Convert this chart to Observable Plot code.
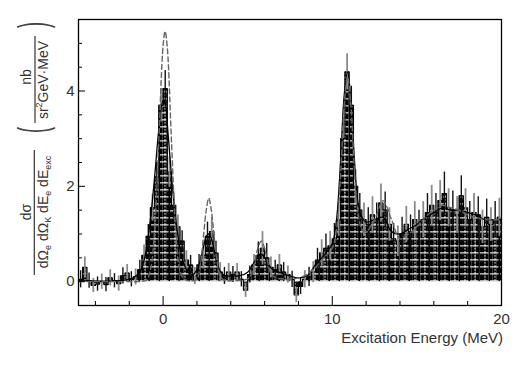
<!DOCTYPE html>
<html><head><meta charset="utf-8">
<script src="https://cdn.jsdelivr.net/npm/d3@7"></script>
<script src="https://cdn.jsdelivr.net/npm/@observablehq/plot@0.6"></script>
<style>body{margin:0;background:#fff}</style>
</head><body><div id="chart"></div>
<script>
// Histogram bins (excitation energy, MeV)
const binStart = -5;
const binWidth = 0.25;
const counts = [
  0.05, 0.30, 0.02, -0.08, -0.05, 0.00, -0.06, 0.08, 0.02, -0.04,
  0.12, 0.18, 0.05, 0.10, 0.25, 0.55, 0.95, 1.55, 2.2, 3.7,
  4.05, 2.3, 1.6, 1.15, 0.85, 0.45, 0.35, 0.12, 0.35, 0.55,
  0.95, 1.05, 0.6, 0.2, 0.12, 0.2, 0.15, 0.2, 0.05, -0.18,
  0.15, 0.35, 0.55, 0.7, 0.5, 0.3, 0.25, 0.35, 0.2, 0.15,
  0.05, -0.28, -0.1, 0.05, 0.1, 0.2, 0.45, 0.6, 0.7, 0.75,
  0.9, 1.3, 3.0, 4.4, 3.7, 2.0, 1.5, 1.3, 1.2, 1.4,
  1.3, 1.65, 1.5, 1.2, 0.9, 0.85, 1.0, 1.2, 1.05, 1.3,
  1.15, 1.3, 1.45, 1.6, 1.45, 1.7, 1.85, 1.55, 1.5, 1.4,
  1.8, 1.55, 1.3, 1.45, 1.4, 1.15, 1.35, 1.2, 1.3, 1.35
];
const errors = [
  0.18, 0.22, 0.16, 0.15, 0.15, 0.16, 0.15, 0.17, 0.15, 0.16,
  0.17, 0.18, 0.16, 0.17, 0.2, 0.22, 0.25, 0.28, 0.3, 0.35,
  0.38, 0.32, 0.28, 0.25, 0.22, 0.2, 0.2, 0.18, 0.22, 0.28,
  0.3, 0.3, 0.25, 0.2, 0.18, 0.18, 0.17, 0.18, 0.16, 0.15,
  0.18, 0.22, 0.28, 0.35, 0.3, 0.22, 0.2, 0.22, 0.2, 0.18,
  0.17, 0.16, 0.17, 0.18, 0.2, 0.22, 0.25, 0.28, 0.3, 0.3,
  0.32, 0.35, 0.35, 0.38, 0.4, 0.35, 0.35, 0.35, 0.35, 0.38,
  0.35, 0.4, 0.38, 0.35, 0.32, 0.32, 0.35, 0.38, 0.35, 0.38,
  0.35, 0.38, 0.4, 0.42, 0.4, 0.42, 0.45, 0.4, 0.4, 0.38,
  0.42, 0.4, 0.38, 0.4, 0.38, 0.35, 0.38, 0.35, 0.38, 0.4
];
// Smooth curves
const curveE = [
  -5, -2, -1.5, -1.25, -1, -0.75, -0.5, -0.25, 0, 0.12,
  0.25, 0.5, 0.75, 1, 1.25, 1.5, 1.75, 2, 2.2, 2.4,
  2.55, 2.7, 2.85, 3, 3.2, 3.4, 3.7, 4, 4.5, 5,
  5.2, 5.4, 5.6, 5.8, 6, 6.2, 6.4, 6.7, 7, 7.5,
  8, 8.5, 9, 9.5, 10, 10.25, 10.5, 10.7, 10.9, 11.1,
  11.3, 11.5, 11.75, 12, 12.5, 13, 13.5, 14, 14.5, 15,
  15.5, 16, 16.5, 17, 17.5, 18, 18.5, 19, 19.5, 20
];
const fitY = [
  0.02, 0.05, 0.15, 0.3, 0.65, 1.3, 2.2, 3.2, 3.8, 3.75,
  3.3, 2.2, 1.3, 0.7, 0.35, 0.2, 0.15, 0.25, 0.45, 0.75,
  0.95, 1.0, 0.9, 0.7, 0.4, 0.2, 0.12, 0.12, 0.12, 0.2,
  0.3, 0.42, 0.55, 0.58, 0.5, 0.38, 0.28, 0.22, 0.18, 0.12,
  0.08, 0.12, 0.35, 0.55, 0.8, 1.3, 2.6, 3.9, 4.4, 3.8,
  2.6, 1.7, 1.35, 1.25, 1.3, 1.35, 1.05, 1.0, 1.1, 1.2,
  1.35, 1.45, 1.55, 1.5, 1.5, 1.45, 1.4, 1.3, 1.3, 1.3
];
const calcY = [
  0, 0, 0, 0.01, 0.03, 0.24, 1.1, 3.0, 4.95, 5.25,
  4.9, 2.9, 1.05, 0.22, 0.05, 0.02, 0.02, 0.05, 0.35, 1.0,
  1.5, 1.75, 1.5, 1.0, 0.4, 0.1, 0.02, 0.02, 0.03, 0.06,
  0.15, 0.38, 0.7, 0.85, 0.7, 0.38, 0.15, 0.08, 0.06, 0.05,
  0.08, 0.15, 0.3, 0.5, 0.7, 1.1, 2.3, 3.7, 4.3, 3.7,
  2.4, 1.5, 1.1, 1.05, 1.3, 1.7, 1.3, 0.9, 1.0, 1.15,
  1.35, 1.5, 1.6, 1.55, 1.5, 1.4, 1.35, 1.3, 1.3, 1.3
];
const xMajorTicks = [0, 10, 20];
const xMinorTicks = [-4, -2, 2, 4, 6, 8, 12, 14, 16, 18];
const yMajorTicks = [0, 2, 4];
const yMinorTicks = [0.5, 1, 1.5, 2.5, 3, 3.5, 4.5, 5];

const bins = counts.map((v, i) => ({
  x1: binStart + i * binWidth,
  x2: binStart + (i + 1) * binWidth,
  xc: binStart + (i + 0.5) * binWidth,
  v, e: errors[i], odd: i % 2 === 1
}));
const curve = curveE.map((e, i) => ({e, fit: fitY[i], calc: calcY[i]}));

const chart = Plot.plot({
  width: 532,
  height: 374,
  marginLeft: 78,
  marginRight: 31,
  marginTop: 19,
  marginBottom: 69,
  style: {fontFamily: "Liberation Sans, Arial, sans-serif", fontSize: "15px", color: "#333", background: "white"},
  x: {domain: [-5, 20], axis: null},
  y: {domain: [-0.5, 5.5], axis: null},
  marks: [
    Plot.rect(bins, {x1: "x1", x2: "x2", y1: 0, y2: "v", fill: "url(#hatch)"}),
    Plot.line(bins, {x: "xc", y: "v", curve: "step", stroke: "black", strokeWidth: 1.2}),
    Plot.ruleX(bins, {filter: d => d.odd, x: "xc", y1: d => d.v - d.e, y2: d => d.v + d.e, stroke: "#8a8a8a", strokeWidth: 1.8}),
    Plot.ruleX(bins, {filter: d => !d.odd, x: "xc", y1: d => d.v - d.e, y2: d => d.v + d.e, stroke: "#111", strokeWidth: 1.4}),
    Plot.line(curve, {x: "e", y: "fit", curve: "catmull-rom", stroke: "black", strokeWidth: 1.3}),
    Plot.line(curve, {x: "e", y: "calc", curve: "catmull-rom", stroke: "#666", strokeWidth: 1.4, strokeDasharray: "5,3"}),
    Plot.frame({stroke: "black", strokeWidth: 1.3}),
    Plot.axisX(xMajorTicks, {tickSize: -9, tickFormat: () => "", stroke: "black", label: null}),
    Plot.axisX(xMinorTicks, {tickSize: -4, tickFormat: () => "", stroke: "black", label: null}),
    Plot.axisX(xMajorTicks, {tickSize: 0, tickPadding: 8, fill: "#333", fontSize: 15, label: null}),
    Plot.axisY(yMajorTicks, {tickSize: -7, tickFormat: () => "", stroke: "black", label: null}),
    Plot.axisY(yMinorTicks, {tickSize: -4, tickFormat: () => "", stroke: "black", label: null}),
    Plot.axisY(yMajorTicks, {tickSize: 0, tickPadding: 4, fill: "#333", fontSize: 15, label: null})
  ]
});
document.getElementById("chart").appendChild(chart);

const svg = d3.select(chart);
const y0 = chart.scale("y").apply(0);
const defs = svg.insert("defs", ":first-child");
const pat = defs.append("pattern")
  .attr("id", "hatch").attr("patternUnits", "userSpaceOnUse")
  .attr("x", 0).attr("y", y0 - 1).attr("width", 10).attr("height", 7);
pat.append("rect").attr("width", 10).attr("height", 7).attr("fill", "#000");
pat.append("rect").attr("x", 0).attr("y", 0).attr("width", 8.5).attr("height", 1.4).attr("fill", "#cfcfcf");
pat.append("line").attr("x1", 5).attr("x2", 5).attr("y1", 0).attr("y2", 7)
  .attr("stroke", "#f4f4f4").attr("stroke-width", 1.1).attr("stroke-dasharray", "1.5,1.5");

// x-axis title
svg.append("text")
  .attr("x", 503).attr("y", 343).attr("text-anchor", "end")
  .attr("fill", "#333").attr("font-size", 15)
  .text("Excitation Energy (MeV)");

// y-axis title (rotated, fractional)
const lab = svg.append("g").attr("fill", "#333").attr("font-size", 14);
lab.append("line").attr("x1", 34.3).attr("x2", 34.3).attr("y1", 150).attr("y2", 275).attr("stroke", "#333").attr("stroke-width", 1.2);
lab.append("line").attr("x1", 35).attr("x2", 35).attr("y1", 36).attr("y2", 123).attr("stroke", "#333").attr("stroke-width", 1.2);
const rot = lab.append("g").attr("transform", "rotate(-90)").attr("text-anchor", "middle");
rot.append("text").attr("x", -212).attr("y", 31).text("dσ");
const den = rot.append("text").attr("x", -212).attr("y", 48);
const sub = (t) => den.append("tspan").attr("font-size", 9).attr("dy", 3).text(t);
const base = (t) => den.append("tspan").attr("font-size", 14).attr("dy", -3).text(t);
den.append("tspan").text("dΩ");
sub("e"); base(" dΩ"); sub("K"); base(" dE"); sub("e"); base(" dE"); sub("exc");
rot.append("text").attr("transform", "translate(-130,47) scale(0.45,1)").attr("font-size", 40).attr("fill", "#444").text("(");
rot.append("text").attr("transform", "translate(-25,47) scale(0.45,1)").attr("font-size", 40).attr("fill", "#444").text(")");
rot.append("text").attr("x", -77).attr("y", 31).text("nb");
const den2 = rot.append("text").attr("x", -80).attr("y", 48);
den2.append("tspan").text("sr");
den2.append("tspan").attr("font-size", 9).attr("dy", -6).text("2");
den2.append("tspan").attr("dy", 6).text("GeV·MeV");
</script>
</body></html>
